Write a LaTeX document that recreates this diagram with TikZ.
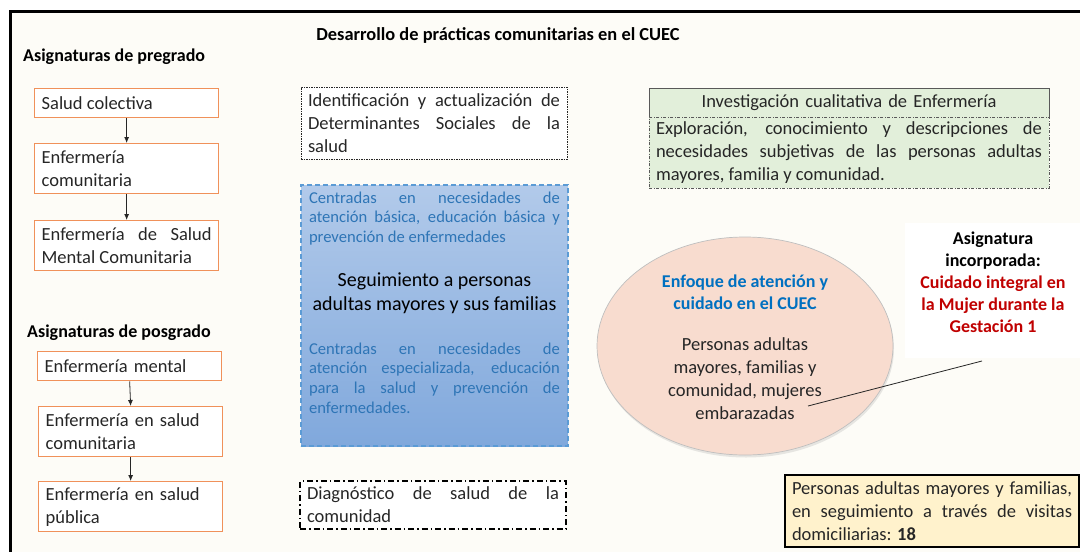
\documentclass[tikz,border=0pt]{standalone}
\usepackage{fontspec}
\setmainfont{Carlito}
\usetikzlibrary{arrows.meta,shapes.geometric,shadows}
\hyphenpenalty=10000
\exhyphenpenalty=10000
\definecolor{bg}{HTML}{FDFCF7}
\definecolor{orng}{HTML}{F0915A}
\definecolor{bluetxt}{HTML}{2E75B6}
\definecolor{blueborder}{HTML}{5B9BD5}
\definecolor{bluetop}{HTML}{B2CAEA}
\definecolor{bluebot}{HTML}{80A8DC}
\definecolor{greenfill}{HTML}{E2EFDA}
\definecolor{peach}{HTML}{F8DCCF}
\definecolor{darkred}{HTML}{C00000}
\definecolor{enfblue}{HTML}{0070C0}
\definecolor{yel}{HTML}{FFF2CC}
\definecolor{ink}{HTML}{262626}
\begin{document}
\begin{tikzpicture}[x=1pt,y=-1pt,
  txt/.style={font=\fontsize{18.5}{23}\selectfont, text=ink},
  smalltxt/.style={font=\fontsize{16.6}{19.6}\selectfont, text=bluetxt},
  headtxt/.style={font=\fontsize{18}{22}\selectfont\bfseries, text=black},
  subj/.style={txt, draw=orng, line width=1.3pt, fill=white, minimum width=184,
    text width=170, inner xsep=7, inner ysep=3, align=justify, anchor=north west},
  arr/.style={draw=ink, line width=0.8pt, -{Latex[length=6,width=5]}},
  dotbox/.style={txt, draw=ink, line width=1pt, dash pattern=on 1.5pt off 1pt, fill=white,
    minimum width=266, text width=252, inner xsep=7, align=justify},
  dashdotbox/.style={txt, draw=black, line width=1.5pt, dash pattern=on 6pt off 3pt on 1.5pt off 3pt,
    fill=white, minimum width=266, text width=252, inner xsep=7, align=justify},
  greenhead/.style={txt, draw=black!65, line width=1pt, fill=greenfill, minimum width=400,
    minimum height=29, text width=386, inner xsep=7, align=center},
  greenbody/.style={txt, draw=black!65, line width=1pt, dash pattern=on 3pt off 1.5pt on 1pt off 1.5pt,
    fill=greenfill, minimum width=400, minimum height=71, text width=386, inner xsep=7, align=justify},
  blueframe/.style={draw=blueborder, line width=1.4pt, dash pattern=on 5pt off 3pt,
    top color=bluetop, bottom color=bluebot, minimum width=267, minimum height=261},
  ellip/.style={ellipse, draw=black!25, line width=0.7pt, fill=peach, minimum width=296, minimum height=218,
    drop shadow={shadow xshift=1pt, shadow yshift=-2.5pt, opacity=0.18}},
  yelbox/.style={txt, draw=black, line width=2pt, fill=yel, minimum width=294, minimum height=72,
    text width=280, inner xsep=7, align=justify}
]
\useasboundingbox (0,0) rectangle (1080,552);
\fill[white] (0,0) rectangle (1080,552);
\fill[bg] (10,11) rectangle (1080,552);
\draw[line width=3pt] (10,552) -- (10,11) -- (1080,11);

% title and headings
\node[headtxt, font=\fontsize{18.4}{22}\selectfont\bfseries] (title) at (498,35) {Desarrollo de prácticas comunitarias en el CUEC};
\node[headtxt, anchor=west, inner sep=0] (pre) at (23,57) {Asignaturas de pregrado};
\node[headtxt, anchor=west, inner sep=0] (pos) at (27,333) {Asignaturas de posgrado};

% pregrado
\node[subj, minimum height=29] (b1) at (34,88) {Salud colectiva};
\node[subj, minimum height=50] (b2) at (34,143) {Enfermería comunitaria};
\node[subj, minimum height=50] (b3) at (34,220) {Enfermería de Salud Mental Comunitaria};
\draw[arr] (b1.south) -- (b2.north);
\draw[arr] (b2.south) -- (b3.north);

% posgrado
\node[subj, minimum height=29, align=left] (p1) at (37,351) {Enfermería mental};
\node[subj, minimum height=50, align=left] (p2) at (38,406) {Enfermería en salud\\comunitaria};
\node[subj, minimum height=50, align=left] (p3) at (38,481) {Enfermería en salud\\pública};
\draw[arr] (p1.south) -- (p2.north);
\draw[arr] (p2.south) -- (p3.north);

% middle column
\node[dotbox, minimum height=72] (ident) at (434,123) {Identificación y actualización de Determinantes Sociales de la salud};
\node[blueframe] (blue) at (434.5,315.5) {};
\node[smalltxt, text width=251, align=justify] (bt1) at (434.5,218.5) {Centradas en necesidades de\linebreak atención básica, educación básica y\linebreak prevención de enfermedades};
\node[font=\fontsize{20}{24.5}\selectfont, text=black, align=center] (seg) at (434.5,293) {Seguimiento a personas\\adultas mayores y sus familias};
\node[smalltxt, text width=251, align=justify] (bt2) at (434.5,378) {Centradas en necesidades de atención especializada, educación para la salud y prevención de enfermedades.};
\node[dashdotbox, minimum height=48] (diag) at (433,505) {Diagnóstico de salud de la comunidad};

% right column
\node[greenhead] (invh) at (849,102.5) {Investigación cualitativa de Enfermería};
\node[greenbody] (invb) at (849,152.5) {Exploración, conocimiento y descripciones de necesidades subjetivas de las personas adultas mayores, familia y comunidad.};

\node[ellip] (ell) at (745,346) {};
\node[font=\fontsize{18}{22}\selectfont\bfseries, text=enfblue, align=center] (enf) at (745,292) {Enfoque de atención y\\cuidado en el CUEC};
\node[txt, align=center] (pers) at (745,379) {Personas adultas\\mayores, familias y\\comunidad, mujeres\\embarazadas};

\node[fill=white, minimum width=175, minimum height=135, inner sep=0] (wbox) at (992.5,290.5) {};
\node[font=\fontsize{18}{22}\selectfont\bfseries, text=black, align=center] (asig) at (993,282.5)
  {Asignatura\\incorporada:\\\textcolor{darkred}{Cuidado integral en}\\\textcolor{darkred}{la Mujer durante la}\\\textcolor{darkred}{Gestación 1}};
\coordinate (la) at (982,361);
\coordinate (lb) at (808,406);
\draw[ink, line width=0.8pt] (la) -- (lb);

\node[yelbox] (yel) at (932,511) {Personas adultas mayores y familias, en seguimiento a través de visitas domiciliarias: \textbf{18}};
\end{tikzpicture}
\end{document}
